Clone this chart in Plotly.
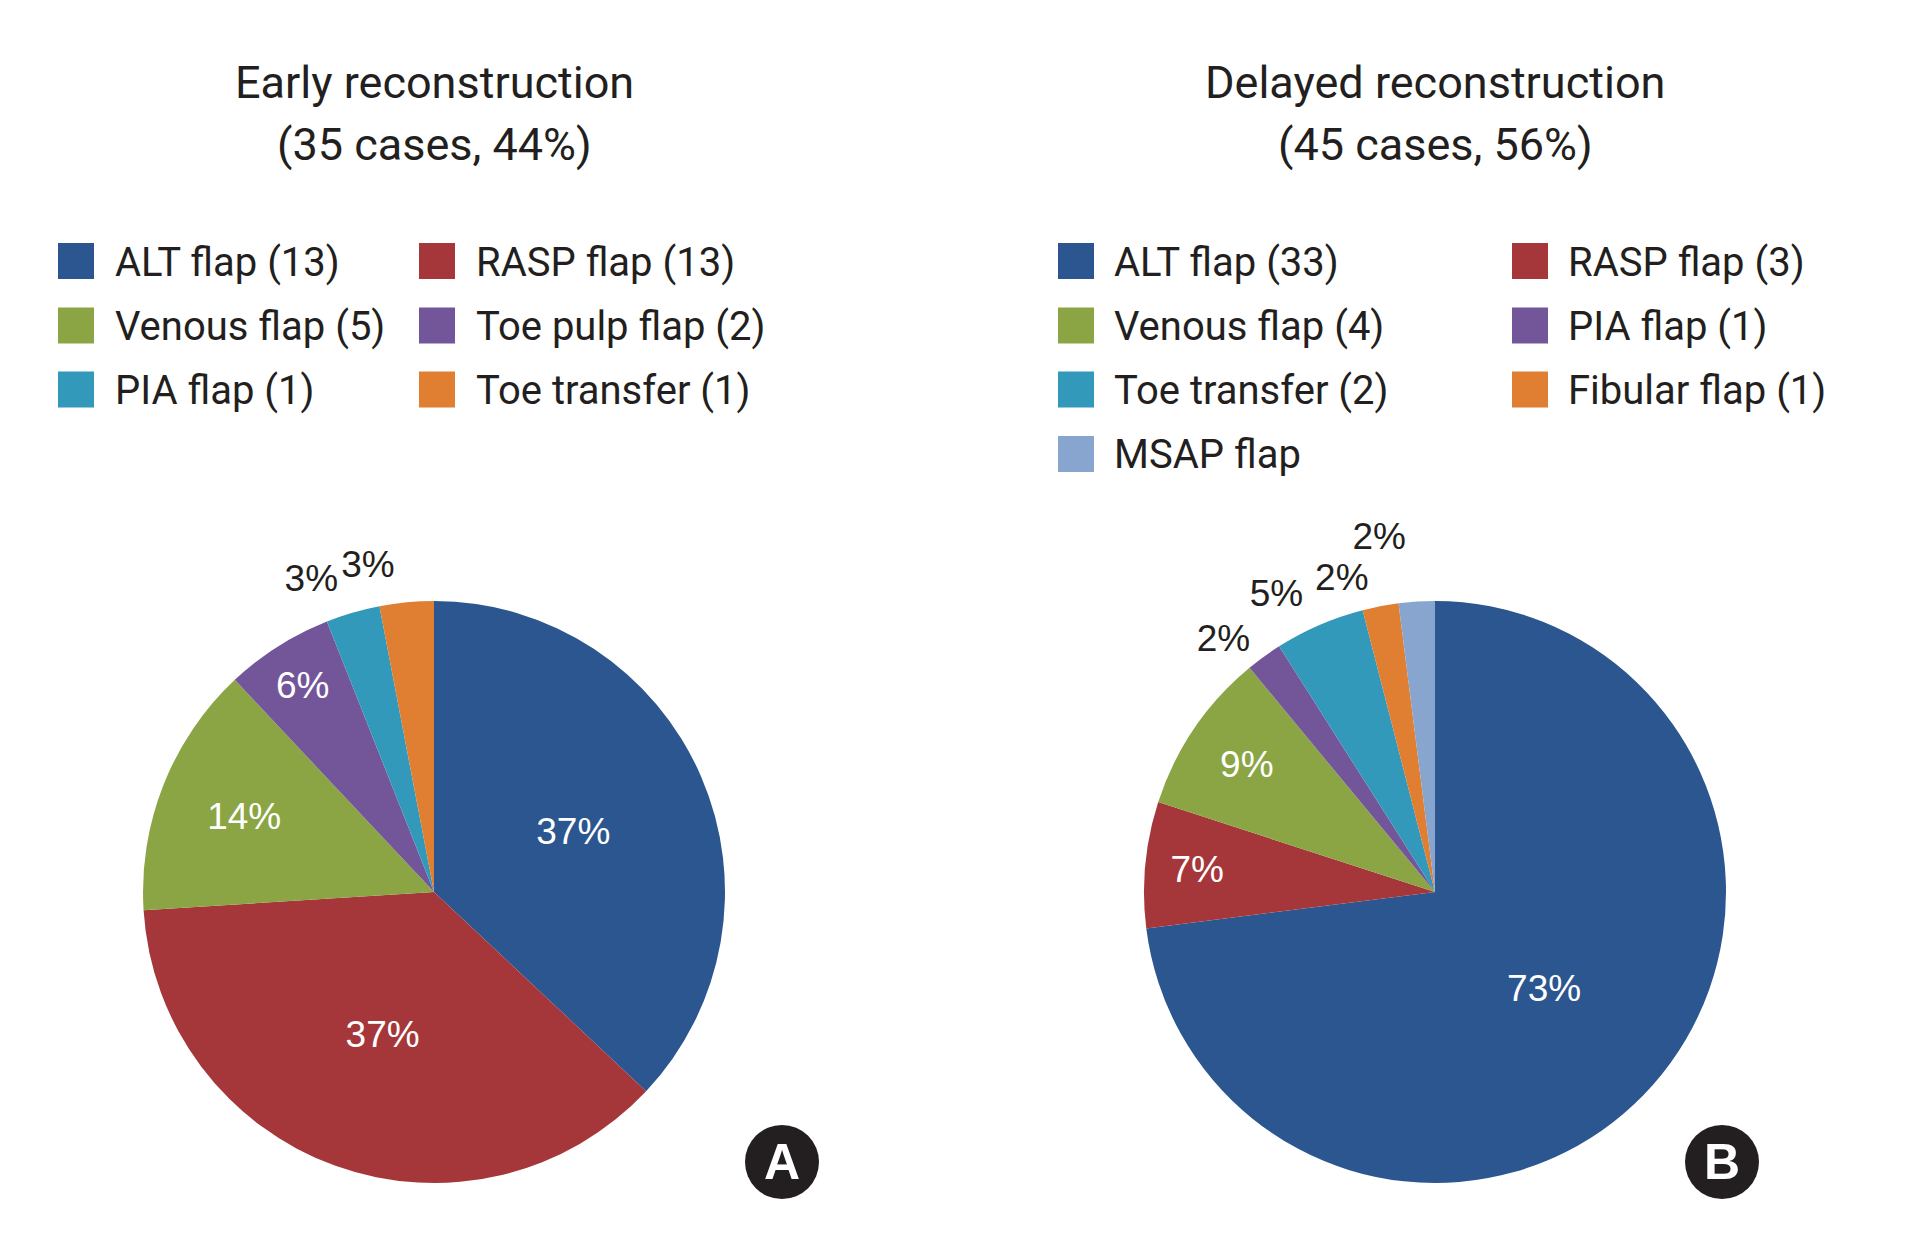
import plotly.graph_objects as go

W, H = 1932, 1255
OFF = 8  # page body margin of the rendered html

# ---- data ----
early_labels = ["ALT flap (13)", "RASP flap (13)", "Venous flap (5)",
                "Toe pulp flap (2)", "PIA flap (1)", "Toe transfer (1)"]
early_pct = [37, 37, 14, 6, 3, 3]
early_colors = ["#2B5690", "#A5373A", "#8BA545", "#73569A", "#3399BA", "#E07E31"]

delayed_labels = ["ALT flap (33)", "RASP flap (3)", "Venous flap (4)",
                  "PIA flap (1)", "Toe transfer (2)", "Fibular flap (1)", "MSAP flap"]
delayed_pct = [73, 7, 9, 2, 5, 2, 2]
delayed_colors = ["#2B5690", "#A5373A", "#8BA545", "#73569A", "#3399BA", "#E07E31", "#87A5CF"]

early_title = ["Early reconstruction", "(35 cases, 44%)"]
delayed_title = ["Delayed reconstruction", "(45 cases, 56%)"]
panel_letters = ["A", "B"]


def px(x):
    return (x - OFF) / W


def py(y):
    return 1 - (y - OFF) / H


FONT = "Roboto, Liberation Sans, sans-serif"
PCT_FONT = "Liberation Sans, Arial, sans-serif"
TXT = "#231F20"
CLEAR = "rgba(0,0,0,0)"

fig = go.Figure()

# groups: (slice indices whose outside label share one label layer, label-layer radius)
panels = [
    dict(labels=early_labels, vals=early_pct, colors=early_colors, title=early_title,
         cx=434, cy=892, r=291, inside=4, groups=[([4], 307), ([5], 309)],
         leg_sq=[58, 419], leg_tx=[115, 476], letter=panel_letters[0], badge=(782, 1162)),
    dict(labels=delayed_labels, vals=delayed_pct, colors=delayed_colors, title=delayed_title,
         cx=1435, cy=892, r=291, inside=3, groups=[([3], 297), ([4], 306), ([5, 6], 300)],
         leg_sq=[1058, 1512], leg_tx=[1114, 1568], letter=panel_letters[1], badge=(1722, 1162)),
]

annotations = []
shapes = []
row_y = [261, 325.5, 389.5, 454]
SQ = 36


def domain(cx, cy, r):
    return dict(x=[px(cx - r), px(cx + r)], y=[py(cy + r), py(cy - r)])


for p in panels:
    n = len(p["vals"])
    # main pie with inside labels
    tpos = ["inside" if i < p["inside"] else "none" for i in range(n)]
    fig.add_trace(go.Pie(
        labels=p["labels"], values=p["vals"], sort=False, direction="clockwise",
        rotation=0,
        marker=dict(colors=p["colors"], line=dict(width=0)),
        texttemplate="%{value}%", textposition=tpos,
        insidetextfont=dict(family=PCT_FONT, size=37, color="white"),
        insidetextorientation="horizontal",
        showlegend=False, domain=domain(p["cx"], p["cy"], p["r"]),
        hovertemplate="%{label}: %{value}%<extra></extra>",
    ))
    # transparent overlay pies carrying the outside labels of the small slices
    # (connector lines drawn in white so they vanish on the white page)
    for grp, rr in p["groups"]:
        fig.add_trace(go.Pie(
            labels=p["labels"], values=p["vals"], sort=False, direction="clockwise",
            rotation=0,
            marker=dict(colors=[CLEAR] * n, line=dict(width=0)),
            texttemplate=["<span style='color:%s'>%%{value}%%</span>" % TXT if i in grp else ""
                          for i in range(n)],
            textposition=["outside" if i in grp else "none" for i in range(n)],
            outsidetextfont=dict(family=PCT_FONT, size=37, color="white"),
            showlegend=False, domain=domain(p["cx"], p["cy"], rr), hoverinfo="skip",
        ))
    # titles
    for i, line in enumerate(p["title"]):
        annotations.append(dict(x=px(p["cx"]), y=py(83 + 61 * i), xref="paper", yref="paper",
                                text=line, showarrow=False, xanchor="center", yanchor="middle",
                                font=dict(family=FONT, size=45, color=TXT)))
    # legend
    for i, (lab, col) in enumerate(zip(p["labels"], p["colors"])):
        c, rw = i % 2, i // 2
        yc = row_y[rw]
        x0 = p["leg_sq"][c]
        shapes.append(dict(type="rect", xref="paper", yref="paper",
                           x0=px(x0), x1=px(x0 + SQ), y0=py(yc + SQ / 2), y1=py(yc - SQ / 2),
                           fillcolor=col, line=dict(width=0)))
        annotations.append(dict(x=px(p["leg_tx"][c] - 2), y=py(yc + 1), xref="paper", yref="paper",
                                text=lab, showarrow=False, xanchor="left", yanchor="middle",
                                font=dict(family=FONT, size=40, color=TXT)))
    # badge
    bx, by = p["badge"]
    shapes.append(dict(type="circle", xref="paper", yref="paper",
                       x0=px(bx - 37), x1=px(bx + 37), y0=py(by + 37), y1=py(by - 37),
                       fillcolor="#231F20", line=dict(width=0)))
    annotations.append(dict(x=px(bx), y=py(by), xref="paper", yref="paper",
                            text="<b>" + p["letter"] + "</b>", showarrow=False,
                            xanchor="center", yanchor="middle",
                            font=dict(family="Liberation Sans, Arial, sans-serif", size=50,
                                      color="white")))

fig.update_layout(
    width=W, height=H,
    margin=dict(l=0, r=0, t=0, b=0),
    paper_bgcolor="white", plot_bgcolor="white",
    annotations=annotations, shapes=shapes,
    showlegend=False,
)

fig.write_html("out.html")
